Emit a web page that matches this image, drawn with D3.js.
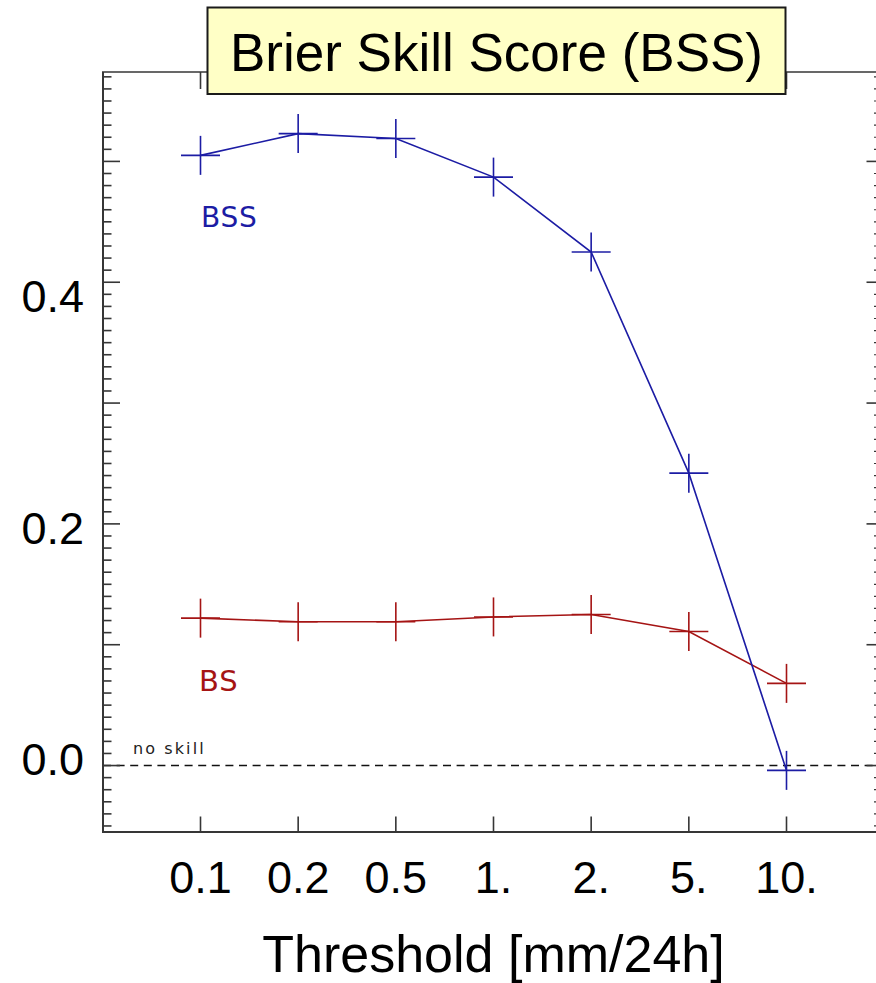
<!DOCTYPE html>
<html>
<head>
<meta charset="utf-8">
<script src="https://cdn.jsdelivr.net/npm/d3@7/dist/d3.min.js"></script>
<style>
  html, body { margin: 0; padding: 0; background: #ffffff; }
  svg { display: block; }
</style>
</head>
<body>
<svg id="chart" width="876" height="983"></svg>
<script>
// Thresholds (mm/24h) and scores
const thresholds = ["0.1", "0.2", "0.5", "1.", "2.", "5.", "10."];
const bssValues = [0.505, 0.523, 0.519, 0.487, 0.425, 0.242, -0.004];
const bsValues  = [0.122, 0.119, 0.119, 0.123, 0.125, 0.111, 0.068];
const yTickLabels = [0.0, 0.2, 0.4];
const noSkillValue = 0.0;

const BLUE = "#1c1ca4";
const RED = "#a51414";
const AXIS = "#363636";

const svg = d3.select("#chart");

const frame = { left: 103, right: 877, top: 72, bottom: 832 };

const x = d3.scalePoint().domain(thresholds).range([200.5, 786.5]);
const y = d3.scaleLinear().domain([-0.055, 0.574]).range([frame.bottom, frame.top]);
// numeric labels sit on a slightly compressed grid relative to the tick marks
const yLabel = d3.scaleLinear().domain([0, 0.4]).range([775, 312]);

// no-skill reference line
svg.append("line")
  .attr("x1", frame.left).attr("x2", frame.right)
  .attr("y1", y(noSkillValue)).attr("y2", y(noSkillValue))
  .attr("stroke", "#111").attr("stroke-width", 1.4)
  .attr("stroke-dasharray", "8,5.6");

svg.append("text")
  .attr("x", 133).attr("y", 754)
  .attr("font-family", "DejaVu Sans").attr("font-size", 16)
  .attr("letter-spacing", 2.1)
  .attr("fill", "#222")
  .text("no skill");

// frame
const g = svg.append("g");
g.append("line").attr("x1", frame.left).attr("x2", frame.left).attr("y1", frame.top).attr("y2", frame.bottom)
  .attr("stroke", AXIS).attr("stroke-width", 2);
g.append("line").attr("x1", frame.left - 1).attr("x2", frame.right).attr("y1", frame.bottom).attr("y2", frame.bottom)
  .attr("stroke", AXIS).attr("stroke-width", 2);
g.append("line").attr("x1", frame.left - 1).attr("x2", frame.right).attr("y1", frame.top).attr("y2", frame.top)
  .attr("stroke", AXIS).attr("stroke-width", 1.6);

// minor/major ticks on left & right
const minorTicks = d3.range(-5, 58).map(i => i / 100);
minorTicks.forEach(v => {
  const major = Math.abs(Math.round(v * 100) % 10) === 0;
  g.append("line")
    .attr("x1", frame.left).attr("x2", frame.left + (major ? 17 : 8.5))
    .attr("y1", y(v)).attr("y2", y(v))
    .attr("stroke", AXIS).attr("stroke-width", 1.6);
  g.append("line")
    .attr("x1", frame.right).attr("x2", frame.right - (major ? 10.5 : 3))
    .attr("y1", y(v)).attr("y2", y(v))
    .attr("stroke", AXIS).attr("stroke-width", major ? 1.6 : 1.2);
});

// category ticks on top & bottom
thresholds.forEach(t => {
  g.append("line").attr("x1", x(t)).attr("x2", x(t)).attr("y1", frame.bottom).attr("y2", frame.bottom - 15.5)
    .attr("stroke", AXIS).attr("stroke-width", 1.6);
  g.append("line").attr("x1", x(t)).attr("x2", x(t)).attr("y1", frame.top).attr("y2", frame.top + 17)
    .attr("stroke", AXIS).attr("stroke-width", 1.6);
});

// tick labels
svg.append("g").selectAll("text").data(yTickLabels).join("text")
  .attr("x", 84).attr("y", d => yLabel(d))
  .attr("text-anchor", "end")
  .attr("font-family", "Liberation Sans, Arial, sans-serif").attr("font-size", 45)
  .attr("fill", "#000")
  .text(d => d.toFixed(1));

svg.append("g").selectAll("text").data(thresholds).join("text")
  .attr("x", d => x(d)).attr("y", 893)
  .attr("text-anchor", "middle")
  .attr("font-family", "Liberation Sans, Arial, sans-serif").attr("font-size", 45)
  .attr("fill", "#000")
  .text(d => d);

svg.append("text")
  .attr("x", 493.5).attr("y", 972)
  .attr("text-anchor", "middle")
  .attr("font-family", "Liberation Sans, Arial, sans-serif").attr("font-size", 52)
  .attr("fill", "#000")
  .text("Threshold [mm/24h]");

// series
const line = d3.line().x((d, i) => x(thresholds[i])).y(d => y(d));

function drawSeries(values, color) {
  svg.append("path").datum(values)
    .attr("d", line)
    .attr("fill", "none").attr("stroke", color).attr("stroke-width", 1.6);
  const s = 19.5;
  const m = svg.append("g").selectAll("g").data(values).join("g")
    .attr("transform", (d, i) => `translate(${x(thresholds[i])},${y(d)})`);
  m.append("line").attr("x1", -s).attr("x2", s).attr("y1", 0).attr("y2", 0)
    .attr("stroke", color).attr("stroke-width", 1.6);
  m.append("line").attr("x1", 0).attr("x2", 0).attr("y1", -s).attr("y2", s)
    .attr("stroke", color).attr("stroke-width", 1.6);
}
drawSeries(bsValues, RED);
drawSeries(bssValues, BLUE);

svg.append("text")
  .attr("x", 201).attr("y", 226.5)
  .attr("font-family", "DejaVu Sans").attr("font-size", 28)
  .attr("letter-spacing", 0.8)
  .attr("fill", BLUE)
  .text("BSS");

svg.append("text")
  .attr("x", 199).attr("y", 690.5)
  .attr("font-family", "DejaVu Sans").attr("font-size", 29)
  .attr("letter-spacing", 0.8)
  .attr("fill", RED)
  .text("BS");

// title box
svg.append("rect")
  .attr("x", 207.5).attr("y", 7.5).attr("width", 578).attr("height", 86.5)
  .attr("fill", "#ffffc6").attr("stroke", "#1a1a1a").attr("stroke-width", 2);
svg.append("text")
  .attr("x", 496.5).attr("y", 71)
  .attr("text-anchor", "middle")
  .attr("font-family", "Liberation Sans, Arial, sans-serif").attr("font-size", 53)
  .attr("fill", "#000")
  .text("Brier Skill Score (BSS)");
</script>
</body>
</html>
